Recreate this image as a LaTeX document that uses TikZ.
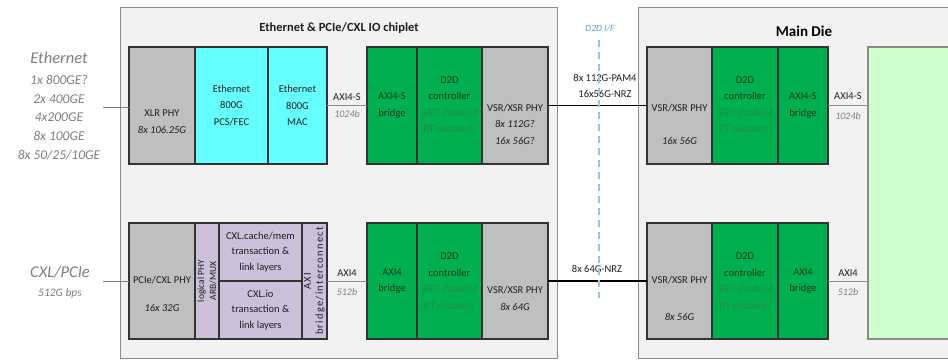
\documentclass[tikz,border=0pt]{standalone}
\usepackage{fontspec}
\setmainfont{Carlito}
\definecolor{boxfill}{HTML}{F2F2F2}
\definecolor{boxedge}{HTML}{8C8C8C}
\definecolor{celledge}{HTML}{333333}
\definecolor{phygray}{HTML}{BFBFBF}
\definecolor{ethcyan}{HTML}{66FFFF}
\definecolor{d2dgreen}{HTML}{00B050}
\definecolor{cxlpurple}{HTML}{CCC0DA}
\definecolor{coregreen}{HTML}{CCFFCC}
\definecolor{darktxt}{HTML}{1F1F1F}
\definecolor{greentxt}{HTML}{0F3A1C}
\definecolor{fainttxt}{HTML}{1F8C42}
\definecolor{softtxt}{HTML}{7F7F7F}
\definecolor{ifblue}{HTML}{5B9BD5}
\definecolor{ifdash}{HTML}{9DC3E6}
\begin{document}
\begin{tikzpicture}[x=1pt,y=-1pt,
  every node/.style={inner sep=0pt,outer sep=0pt},
  container/.style={draw=boxedge,fill=boxfill,line width=1pt,anchor=north west},
  cell/.style={draw=celledge,line width=1.1pt,anchor=north west},
  celltext/.style={align=center,text=darktxt,font=\fontsize{10.5}{16.5}\selectfont},
  greentext/.style={celltext,text=greentxt},
  sidetext/.style={align=center,text=softtxt,font=\fontsize{13.5}{18.75}\selectfont\itshape},
  buslabel/.style={text=darktxt,font=\fontsize{10.5}{12}\selectfont},
  buswidth/.style={text=softtxt,font=\fontsize{10}{12}\selectfont\itshape},
  linklabel/.style={align=center,text=darktxt,font=\fontsize{10.5}{16}\selectfont},
  busline/.style={draw=boxedge,line width=1pt},
  d2dlink/.style={draw=black,line width=1.6pt},
  extline/.style={draw=softtxt,line width=1pt}
]
\useasboundingbox (0,0) rectangle (948,361);

% die outlines
\node[container,minimum width=437,minimum height=350] (chiplet) at (120,8) {};
\node[container,minimum width=330,minimum height=350] (maindie) at (638,8) {};
\node[text=darktxt,font=\fontsize{12.5}{14}\selectfont\bfseries] (chiptitle) at (339,28) {Ethernet \& PCIe/CXL IO chiplet};
\node[text=black,font=\fontsize{15}{17}\selectfont\bfseries] (maintitle) at (804,31) {Main Die};

% chiplet, Ethernet row
\node[cell,fill=phygray,minimum width=66,minimum height=117] (xlr) at (129,47) {};
\node[cell,fill=ethcyan,minimum width=73,minimum height=117] (pcs) at (195,47) {};
\node[cell,fill=ethcyan,minimum width=59,minimum height=117] (mac) at (268,47) {};
\node[cell,fill=d2dgreen,minimum width=50,minimum height=117] (axbrA) at (367,47) {};
\node[cell,fill=d2dgreen,minimum width=65,minimum height=117] (d2dA) at (417,47) {};
\node[cell,fill=phygray,minimum width=66,minimum height=117] (vsrA) at (482,47) {};

% chiplet, CXL/PCIe row
\node[cell,fill=phygray,minimum width=66,minimum height=116] (pcie) at (129,223) {};
\node[cell,fill=cxlpurple,minimum width=24,minimum height=116] (arb) at (195,223) {};
\node[cell,fill=cxlpurple,minimum width=83,minimum height=58] (cache) at (219,223) {};
\node[cell,fill=cxlpurple,minimum width=83,minimum height=58] (cxlio) at (219,281) {};
\node[cell,fill=cxlpurple,minimum width=25,minimum height=116] (axiic) at (302,223) {};
\node[cell,fill=d2dgreen,minimum width=50,minimum height=116] (axbrC) at (367,223) {};
\node[cell,fill=d2dgreen,minimum width=65,minimum height=116] (d2dC) at (417,223) {};
\node[cell,fill=phygray,minimum width=66,minimum height=116] (vsrC) at (482,223) {};

% main die
\node[cell,fill=phygray,minimum width=65,minimum height=117] (vsrB) at (647,47) {};
\node[cell,fill=d2dgreen,minimum width=66,minimum height=117] (d2dB) at (712,47) {};
\node[cell,fill=d2dgreen,minimum width=50,minimum height=117] (axbrB) at (778,47) {};
\node[cell,fill=phygray,minimum width=65,minimum height=116] (vsrD) at (647,223) {};
\node[cell,fill=d2dgreen,minimum width=66,minimum height=116] (d2dD) at (712,223) {};
\node[cell,fill=d2dgreen,minimum width=50,minimum height=116] (axbrD) at (778,223) {};
\node[cell,draw=boxedge,fill=coregreen,minimum width=110,minimum height=292] (core) at (868,47) {};

% cell texts
\node[celltext] (xlrT) at (162,121.5) {XLR PHY\\\textit{8x 106.25G}};
\node[celltext] (pcsT) at (pcs.center) {Ethernet\\800G\\PCS/FEC};
\node[celltext] (macT) at (mac.center) {Ethernet\\800G\\MAC};
\node[greentext] (axbrAT) at (axbrA.center) {AXI4-S\\bridge};
\node[greentext] (d2dAT) at (d2dA.center) {D2D\\controller\\\textcolor{fainttxt}{(FEC disabled}\\\textcolor{fainttxt}{RT disabled)}};
\node[celltext] (vsrAT) at (515,124) {VSR/XSR PHY\\\textit{8x 112G?}\\\textit{16x 56G?}};

\node[celltext] (vsrBT) at (679.5,124) {VSR/XSR PHY\\\mbox{}\\\textit{16x 56G}};
\node[greentext] (d2dBT) at (d2dB.center) {D2D\\controller\\\textcolor{fainttxt}{(FEC disabled}\\\textcolor{fainttxt}{RT disabled)}};
\node[greentext] (axbrBT) at (axbrB.center) {AXI4-S\\bridge};

\node[celltext] (pcieT) at (162,294) {PCIe/CXL PHY\\[11.5pt]\textit{16x 32G}};
\node[celltext,font=\fontsize{9.5}{12}\selectfont,rotate=90] (arbT) at (arb.center) {logical PHY\\ARB/MUX};
\node[celltext,font=\fontsize{10.5}{15.5}\selectfont] (cacheT) at (cache.center) {CXL.cache/mem\\transaction \&\\link layers};
\node[celltext,font=\fontsize{10.5}{15.5}\selectfont] (cxlioT) at (cxlio.center) {CXL.io\\transaction \&\\link layers};
\node[celltext,font=\fontsize{10.5}{12}\selectfont\addfontfeatures{LetterSpace=12},rotate=90] (axiicT) at (axiic.center) {AXI\\bridge/interconnect};
\node[greentext] (axbrCT) at (axbrC.center) {AXI4\\bridge};
\node[greentext] (d2dCT) at (449.5,282) {D2D\\controller\\\textcolor{fainttxt}{(FEC disabled}\\\textcolor{fainttxt}{RT enabled)}};
\node[celltext] (vsrCT) at (515,298.5) {VSR/XSR PHY\\\textit{8x 64G}};

\node[celltext] (vsrDT) at (679.5,298.5) {VSR/XSR PHY\\[20.5pt]\textit{8x 56G}};
\node[greentext] (d2dDT) at (745,282) {D2D\\controller\\\textcolor{fainttxt}{(FEC disabled}\\\textcolor{fainttxt}{RT enabled)}};
\node[greentext] (axbrDT) at (axbrD.center) {AXI4\\bridge};

% external interfaces
\node[text=softtxt,font=\fontsize{16.5}{18}\selectfont\itshape] (ethT) at (59,58) {Ethernet};
\node[sidetext] (ethL) at (59,117.5) {1x 800GE?\\2x 400GE\\4x200GE\\8x 100GE\\8x 50/25/10GE};
\node[text=softtxt,font=\fontsize{16.5}{18}\selectfont\itshape] (cxlT) at (60,272) {CXL/PCIe};
\node[text=softtxt,font=\fontsize{11.5}{13}\selectfont\itshape] (cxlR) at (60,293) {512G bps};
\coordinate (ethIn) at (103,107);
\coordinate (cxlIn) at (103,281);
\draw[extline] (ethIn) -- (ethIn -| xlr.west);
\draw[extline] (cxlIn) -- (cxlIn -| pcie.west);

% on-die buses
\draw[busline] (mac.east) -- (axbrA.west);
\draw[busline] (axiic.east) -- (axbrC.west);
\draw[busline] (axbrB.east) -- (axbrB.east -| core.west);
\draw[busline] (axbrD.east) -- (axbrD.east -| core.west);
\node[buslabel] (busA) at (347,97) {AXI4-S};
\node[buswidth] (busAw) at (347,114) {1024b};
\node[buslabel] (busB) at (848,96) {AXI4-S};
\node[buswidth] (busBw) at (848,116) {1024b};
\node[buslabel] (busC) at (347,273) {AXI4};
\node[buswidth] (busCw) at (347,292) {512b};
\node[buslabel] (busD) at (848,273) {AXI4};
\node[buswidth] (busDw) at (848,292) {512b};

% die-to-die links
\node[linklabel,fill=white,inner sep=1pt] (linkAT) at (605,86) {8x 112G-PAM4\\16x56G-NRZ};
\node[linklabel] (linkCT) at (597,269) {8x 64G-NRZ};
\draw[d2dlink] (vsrA.east) -- (vsrB.west);
\draw[d2dlink] (vsrC.east) -- (vsrD.west);

% D2D interface boundary
\node[text=ifblue,font=\fontsize{9.5}{11}\selectfont\itshape] (ifT) at (600,28) {D2D I/F};
\coordinate (ifTop) at (599,40);
\coordinate (ifBot) at (599,298);
\draw[draw=ifdash,line width=1.2pt,dash pattern=on 7pt off 5pt] (ifTop) -- (ifBot);
\end{tikzpicture}
\end{document}
